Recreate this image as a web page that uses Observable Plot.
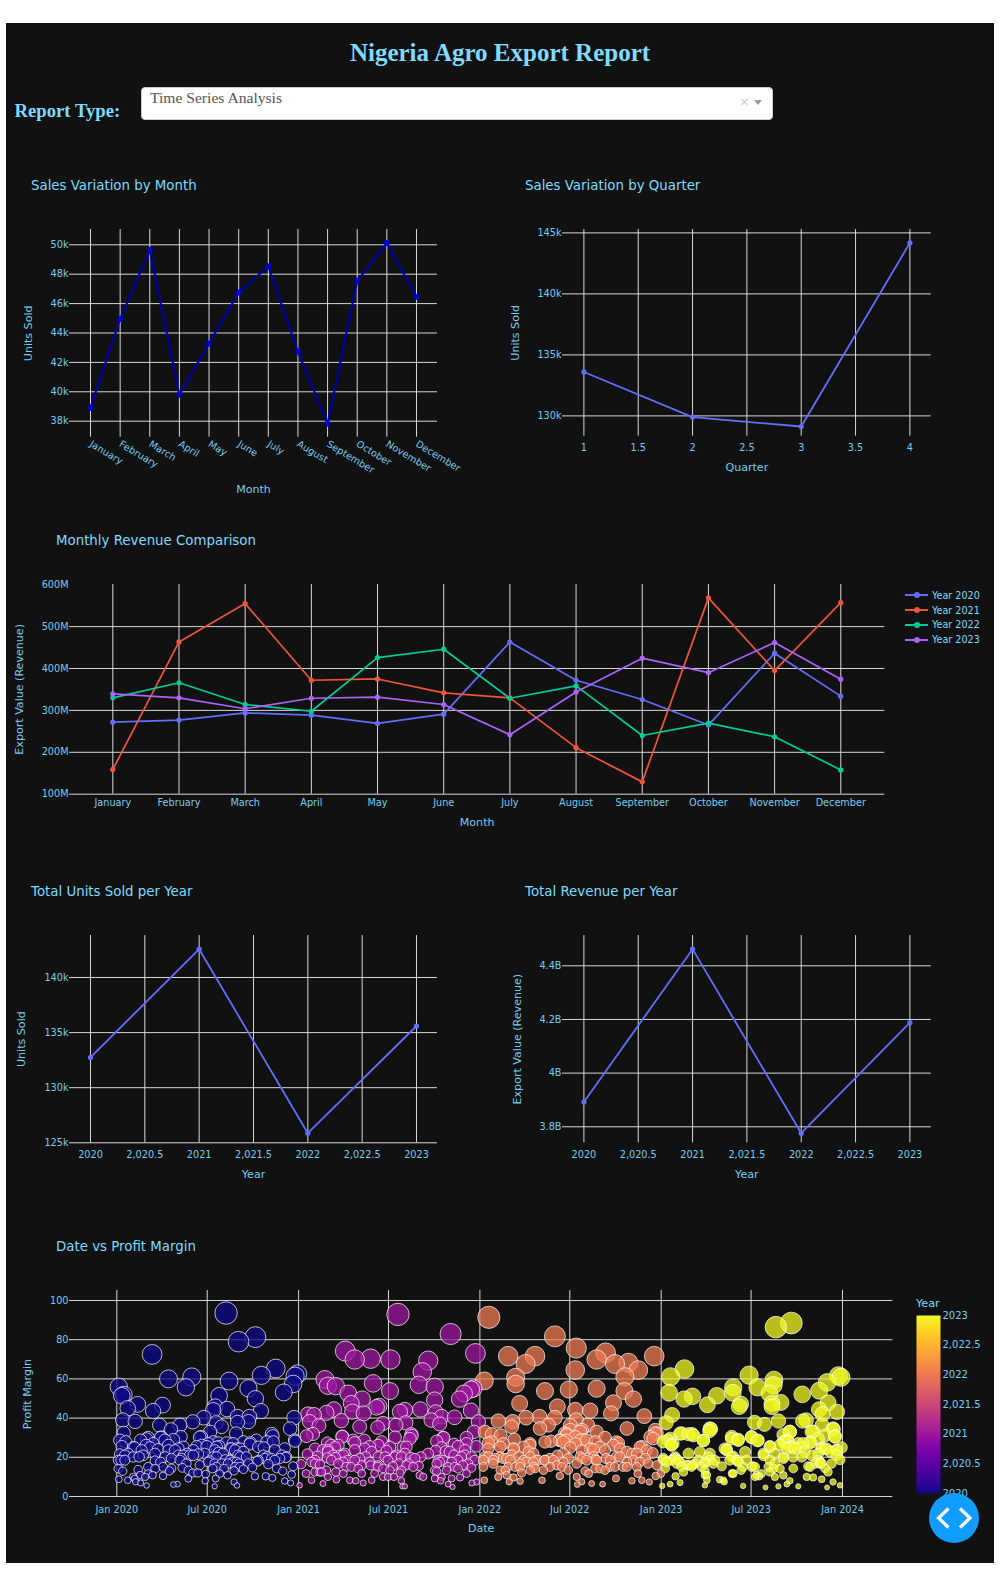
<!DOCTYPE html>
<html>
<head>
<meta charset="utf-8">
<script src="https://cdn.jsdelivr.net/npm/d3@7"></script>
<script src="https://cdn.jsdelivr.net/npm/@observablehq/plot@0.6"></script>
<style>
html,body{margin:0;padding:0;background:#fff;overflow:hidden;}
body{position:relative;width:1000px;height:1570px;}
#panel{position:absolute;left:6px;top:23px;width:987.5px;height:1540px;background:#111;}
.abs{position:absolute;white-space:nowrap;}
.serif{font-family:"Liberation Serif",serif;font-weight:bold;color:#7FDBFF;}
.ctitle{font-family:"DejaVu Sans",sans-serif;font-size:13.35px;color:#7FDBFF;line-height:16px;transform:translateY(-50%);}
#legend{position:absolute;left:905px;top:588px;font:9.6px "DejaVu Sans",sans-serif;color:#7FDBFF;}
#legend div{display:flex;align-items:center;height:14.8px;}
#legend i{display:block;position:relative;width:23px;height:2px;margin-right:4px;}
#legend i::after{content:"";position:absolute;left:8.5px;top:-2px;width:6px;height:6px;border-radius:50%;background:inherit;}
#dd{position:absolute;left:141px;top:87px;width:630px;height:31px;background:#fff;border:1px solid #ccc;border-radius:4px;}
#btn{position:absolute;left:929px;top:1493px;width:50px;height:50px;border-radius:50%;background:#119DFF;}
[aria-label$="axis label"]{font-size:11.1px;}
</style>
</head>
<body>
<div id="panel"></div>
<div class="abs serif" style="left:0;width:1000px;text-align:center;top:38px;font-size:25px;line-height:30px;">Nigeria Agro Export Report</div>
<div class="abs serif" style="left:14.5px;top:99px;font-size:18.7px;line-height:24px;">Report Type:</div>
<div id="dd">
  <span class="abs" style="left:8px;top:0px;font:15.6px/20px 'Liberation Serif',serif;color:#555;">Time Series Analysis</span>
  <span class="abs" style="left:597px;top:5px;font:13px/18px 'DejaVu Sans',sans-serif;color:#ccc;">×</span>
  <span class="abs" style="left:612px;top:12px;width:0;height:0;border-left:4.5px solid transparent;border-right:4.5px solid transparent;border-top:5px solid #999;"></span>
</div>
<div class="abs ctitle" style="left:31px;top:186px;">Sales Variation by Month</div>
<div class="abs ctitle" style="left:525px;top:186px;">Sales Variation by Quarter</div>
<div class="abs ctitle" style="left:56px;top:541px;">Monthly Revenue Comparison</div>
<div class="abs ctitle" style="left:31px;top:892px;">Total Units Sold per Year</div>
<div class="abs ctitle" style="left:525px;top:892px;">Total Revenue per Year</div>
<div class="abs ctitle" style="left:56px;top:1247px;">Date vs Profit Margin</div>
<div id="legend"></div>
<div class="abs" style="left:916px;top:1297px;font:11.2px/14px 'DejaVu Sans',sans-serif;color:#7FDBFF;">Year</div>
<div id="charts"></div>
<div id="btn"><svg width="50" height="50" style="display:block"><path d="M19.5 15.5 L9.5 25 L19.5 34.5 M31 15.5 L41 25 L31 34.5" fill="none" stroke="#fff" stroke-width="3.2"/></svg></div>

<script>
const months = ["January","February","March","April","May","June","July","August","September","October","November","December"];
const monthlyUnitsK = [38.9,44.96,49.66,39.8,43.29,46.76,48.54,42.72,37.82,47.55,50.12,46.46];
const quarters = [1,2,3,4];
const quarterUnitsK = [133.6,129.9,129.13,144.18];
const years = [2020,2021,2022,2023];
const yearUnitsK = [132.75,142.57,125.87,135.6];
const yearRevenueB = [3.892,4.462,3.776,4.188];
const revenue2020 = [272,277,294,288.5,269,291,463,372,326,265,436.5,334];
const revenue2021 = [159,463.5,555,372,375,342,330,211,129.4,568.6,395,557];
const revenue2022 = [330,366,314,298,426,446,329,358.5,240,269.5,237,158];
const revenue2023 = [339.5,330,304,329,331.5,314,242,344,424.6,390,462,374.5];
const seriesNames = ["Year 2020","Year 2021","Year 2022","Year 2023"];
const seriesColors = ["#636EFA","#EF553B","#00CC96","#AB63FA"];

// [day of year, profit margin]
const bubbles2020 = [[5,56],[15,52],[11,51.4],[23,45],[43,47],[72,72.5],[74,43.6],[93,46.6],[105,60],[140,55.7],[152,61],[221,93.6],[246,79],[280,81.3],[227,58.9],[207,51.4],[199,45.8],[195,44],[223,44.6],[266,55.2],[280,49.9],[291,43.6],[292,61.8],[321,65.3],[337,53.1],[356,57.4],[360,61.4],[365,62.5],[358,40.2],[350,34.6],[359,28.8],[13,39],[38,38.3],[15,32.5],[87,36.4],[110,34.2],[128,36.4],[154,38.1],[176,40.2],[244,40.7],[268,40.7],[266,38.2],[244,37.8],[201,37.6],[212,35.6],[241,32.2],[189,33],[168,30.2],[313,31.9],[315,30.8],[130,30.5],[61,29.3],[91,30.2],
[11,25.6],[7,21.6],[9,18.5],[4,14.2],[13,12.9],[5,8.8],[23,8.3],[37,25],[34,20.2],[19,27.9],[49,28.7],[60,26.2],[64,30],[89,30],[84,24.1],[44,13.7],[37,9.1],[39,7.5],[49,6.9],[58,10],[61,5.6],[73,10.9],[64,15.1],[78,18.2],[89,17.6],[94,10.5],[111,19.4],[115,29],[125,24.5],[111,14.3],[107,13.1],[133,14.6],[135,21],[148,21],[165,21.6],[178,21.9],[182,25.6],[205,27.4],[222,27.4],[206,22.4],[188,18.2],[219,18.8],[202,15.1],[217,14.2],[145,13.4],[154,12],[164,12],[180,11.4],[179,8],[200,9.2],[198,5.2],[145,9.1],[115,6.1],[123,6.3],[224,10.8],[237,13.1],[237,7.4],[243,5.6],[256,13.9],[247,16.8],[245,21],[243,24.5],[232,24.5],[256,27.9],[270,27.4],[282,28.7],[297,25],[319,23.6],[339,24.5],[329,19.4],[306,16.5],[284,18],[274,14.8],[323,14.3],[335,12.9],[353,11.2],[360,28.2],[339,7.9],[351,6.9],[279,10.3],[301,10.3],[314,9.5],[266,16.8],[195,20.2],[162,25.6],[171,30.4],[242,17.6],[225,16.8],[208,11.7],[194,14.3],[304,20.2],[341,19.9],[356,15.4],
[34,25],[24,21.9],[51,23.6],[68,25],[74,27],[98,28.7],[105,26.2],[98,20.2],[125,21],[131,19.4],[143,21.9],[155,21],[172,26.2],[195,27.9],[207,25.6],[198,23.6],[215,21.9],[230,24.5],[239,23.6],[249,20.2],[256,22.8],[269,26.7],[286,25.3],[296,21],[313,19.4],[333,21],[343,20.2],[303,27.9],[316,27.9],[286,18.5],[239,15.1],[249,15.1],[212,16.8],[198,16.8],[185,17.6],[168,16],[141,16.8],[128,18.5],[94,15.1],[78,14.2],[64,11.7],[48,10.9],[34,10],[17,18.5],[7,28.7],[4,18.5],[202,20.2],[229,18.5],[235,17.6],
[185,27],[202,25.3],[235,27],[249,24.4],[155,23.6],[135,25.3],[118,23.6],[105,23.6],[78,21.9],[54,21],[46,20.2],[17,21],[299,19.4],[319,18.5],[262,20.2]];
const bubbles2021 = [[54,59.7],[60,56.5],[76,56.3],[95,74.2],[114,69.9],[146,70.3],[186,69.9],[201,92.9],[307,82.9],[262,69.3],[250,63.6],[357,73],[151,57.7],[185,53.8],[243,57],[275,56],[101,52.6],[129,49.7],[107,47.5],[109,43.3],[132,42.4],[72,44.4],[57,42.7],[87,38.7],[124,35.6],[163,46.1],[158,45.5],[205,43.2],[215,44.1],[246,44.4],[275,49.2],[277,42.9],[289,40.7],[315,40.4],[325,49.7],[334,52.6],[348,54.6],[353,55.1],[348,43.8],[363,38.1],[354,33],[268,39],[285,37],[171,37.3],[160,35.2],[197,36.4],[217,37.6],[229,31],[89,30.5],[32,41.6],[20,41.9],[42,36.1],[30,31.9],[17,30.8],[23,38.2],[195,30.2],[292,30],
[19,21.6],[39,20.5],[60,22.8],[74,25],[59,19.7],[75,19.9],[91,17.6],[114,18.5],[136,20.2],[168,27.9],[178,23.3],[181,18.5],[144,25.6],[133,28.7],[114,27.5],[89,30.7],[59,27.3],[211,25.3],[225,29.5],[228,31.8],[198,21],[227,19.9],[247,20.2],[218,15.9],[243,15.6],[203,16.8],[279,28.2],[293,29.9],[314,26.7],[297,23.1],[277,23.3],[339,30],[359,25.6],[336,21],[314,21],[285,17.6],[332,16],[309,17.6],[349,14.6],[279,12.9],[299,13.4],[322,14.2],[339,11.7],[44,16.3],[47,12.5],[27,17.6],[16,11.7],[6,16.5],[60,10],[76,12.5],[91,11.7],[77,8.6],[27,8.3],[50,6.6],[3,5.7],[104,8.3],[116,8],[131,6.9],[148,8.3],[107,15.1],[128,15.9],[146,15.9],[160,15.1],[128,11.7],[154,11.7],[171,14.3],[185,13.4],[171,10],[181,10],[193,10],[205,12],[208,8],[215,5.2],[210,5.2],[245,10.8],[252,10],[275,9.2],[289,10],[287,8],[309,9.2],[302,6.3],[311,4.9],[326,9.7],[350,6.9],[359,7.4],[94,21.9],
[34,24.4],[50,23.6],[67,26.2],[81,26.2],[84,21],[101,18.5],[124,19.4],[148,22.8],[161,20.2],[144,17.6],[121,14.2],[97,15.1],[67,18.5],[44,12.5],[34,16.8],[57,13.4],[185,25.3],[195,20.2],[215,21.9],[235,19.4],[222,16.8],[208,13.4],[232,15.1],[262,21.9],[289,25],[305,22.8],[292,18.5],[279,16.8],[302,15.1],[322,18.5],[336,23.6],[349,20.2],[322,25.6],[342,16.8],[356,18.5],[111,28.7],[161,15.9],[191,15.4],[81,16.8],[34,12.5],
[34,18.5],[71,21],[60,23.6],[91,21],[114,23.6],[134,24.4],[161,26.2],[175,20.2],[208,20.2],[218,25.3],[282,18.5],[329,20.2],[339,27],[315,15.1],[275,13.4]];
const bubbles2022 = [[19,91.4],[10,59],[152,81.7],[195,75.7],[58,71.6],[93,67.6],[112,71.6],[236,69.9],[254,73.3],[273,67.6],[300,68.2],[320,64.5],[352,71.6],[293,61.1],[73,60.8],[73,57.4],[193,64.5],[132,53.8],[180,54.6],[236,55],[292,53.8],[310,49.7],[81,47.5],[157,45.8],[193,44.1],[270,47.8],[265,42.4],[223,43.8],[332,41],[38,38.5],[121,40.7],[94,40.2],[152,40.2],[195,39],[67,38.2],[139,36.4],[122,34.7],[218,36.4],[297,34.7],[236,33],[354,33.9],[357,32.2],[183,33.9],[172,32.2],[206,33.9],[65,35.6],
[11,33],[25,31.8],[43,31.2],[18,27.3],[48,27],[70,29.2],[69,24.4],[102,26.2],[99,22.7],[11,20.2],[32,19.4],[55,19.4],[79,20.2],[102,20.2],[8,15.1],[42,13.4],[58,15.1],[72,15.1],[95,17.6],[115,18.5],[132,18.5],[157,21],[161,28.7],[144,28.2],[176,31.8],[193,27],[183,25],[206,23.6],[209,29],[230,24],[253,30],[253,23.6],[280,27.3],[276,20.2],[327,25.6],[350,29.5],[349,22.2],[307,21.9],[179,19.4],[208,19.4],[233,18.8],[255,19.4],[297,17.6],[323,17.6],[340,16.8],[357,15.9],[179,13.4],[213,13],[273,15.1],[289,15.1],[233,14.3],[253,13.4],[156,15.9],[112,14.3],[129,13.4],[85,12],[38,10],[55,10.9],[10,8.3],[69,9.7],[60,7.5],[82,7.8],[126,8.3],[162,10.5],[196,10],[220,11.7],[206,7.5],[197,6.1],[226,6.6],[248,6.3],[275,9.2],[307,8],[327,8.3],[342,7.4],[319,11.7],[355,10.5],[365,11.7],
[18,20.2],[42,20.2],[65,21],[89,18.5],[109,21.9],[119,18.5],[142,19.4],[169,21.9],[169,27.9],[193,30.4],[216,28.7],[233,27.9],[203,20.2],[223,24.4],[243,25.3],[270,26.2],[283,24.4],[297,22.8],[317,21.9],[337,23.6],[334,19.4],[310,18.5],[283,20.2],[263,18.5],[236,18.5],[216,18.5],[196,16.8],[169,17.6],[149,18.5],[109,17.6],[82,16.8],[62,18.5],[28,16.8],[8,18.5],[52,13.4],[102,13.4],[142,15.1],[166,15.1],[243,14.2],[263,15.1],[297,15.1],[317,15.1],[18,24.4],[42,25.3],[25,27.9],[89,25.3],
[176,31.3],[162,28.7],[175,28.7],[132,27.8],[203,33],[203,28.7],[183,36.3],[223,24.4],[230,20.2],[276,27.9],[323,25.3],[344,30.4],[354,32.1],[28,18.5],[48,19.4],[69,24.4],[102,27],[132,18.5],[82,15.1],[109,15.1]];
const bubbles2023 = [[48,65],[20,61.1],[17,52.9],[47,49.7],[64,51.1],[94,46.8],[113,51.4],[146,55.7],[145,52.9],[161,47.2],[158,45.8],[178,61.9],[195,55.7],[228,59.4],[232,86.4],[263,88.5],[227,56.8],[219,52.6],[224,47.5],[242,48],[224,45.8],[285,52.1],[319,54],[335,58.2],[358,61.6],[363,60.8],[337,47.8],[319,44.4],[355,43.2],[326,42.1],[23,41.6],[11,37.6],[189,37.8],[209,36.8],[237,38.5],[286,38.5],[293,39],[307,33.1],[325,36.4],[348,34.2],[351,30.8],[101,34.4],[98,33.4],[260,33],[247,31.4],[42,32.2],[63,31.9],[86,28.5],[143,30.5],[156,29.1],[183,30.2],[195,28.5],[19,29.6],[250,28],[22,26.2],
[5,18.5],[9,14.3],[29,19.4],[32,16.8],[22,26.2],[5,27.9],[52,16],[64,16],[46,12.5],[89,17.6],[89,13.4],[99,21.9],[56,21.9],[79,22.7],[123,15.4],[133,24],[156,17.6],[146,11.7],[170,22.7],[162,13.4],[186,15.4],[207,21.9],[220,25.3],[247,19.4],[250,27.9],[267,25.3],[284,25],[301,27.3],[267,14.3],[297,15.4],[321,16.8],[324,25],[354,23.9],[364,25],[361,18.8],[317,21.9],[217,15.1],[227,14.3],[203,11.7],[193,10.9],[331,14.3],[337,12.5],[230,10],[247,10.8],[294,10],[307,9.7],[324,8.8],[347,7.4],[361,5.7],[335,4.6],[277,5.2],[237,5.2],[211,4.6],[260,8],[254,6.3],[166,5.4],[144,11.7],[128,7.5],[119,8.6],[89,5.7],[93,8.3],[89,10.9],[30,10.3],[39,7.1],[19,6.3],[3,5.4],[198,10.3],[146,20.5],[109,18.5],[126,8.3],
[15,28.7],[25,27],[39,32.1],[56,31.8],[66,31.2],[86,28.7],[99,34.6],[12,17.6],[22,18.5],[42,15.1],[62,15.1],[76,18.5],[96,20.2],[106,16.8],[129,24.4],[143,29.5],[156,28.7],[183,30.4],[196,28.7],[153,18.5],[173,18.5],[190,15.1],[220,18.5],[240,26.2],[254,28.7],[260,33],[264,25.3],[277,27],[304,33],[317,29.5],[331,31.2],[347,34.6],[351,30.4],[284,20.2],[304,21],[331,24.4],[341,22.8],[311,16.8],[324,16.8],[344,16.8],[354,21],[5,19.4],[39,17.6],[82,15.1],[139,18.5],[220,12.5],[240,14.2],[93,10.9],
[29,20.2],[35,18.5],[56,16],[69,16.8],[89,16.8],[99,18.5],[133,23.6],[143,20.2],[156,18.5],[166,15.1],[183,15.1],[190,10],[220,25.6],[207,21],[247,20.2],[257,27.9],[254,24.4],[270,24.4],[287,27],[301,27.9],[324,24.4],[334,24.4],[354,23.6],[317,18.5],[301,15.1],[321,17.6],[247,27.9],[260,25.3],[290,22.8],[267,20.2],[230,21.9],[230,16.8]];

const bubbleYears = {2020:bubbles2020,2021:bubbles2021,2022:bubbles2022,2023:bubbles2023};
const bubbles = years.flatMap(y => bubbleYears[y]
  .map(([day,margin]) => ({year:y, date:new Date(Date.UTC(y,0,day)), margin})))
  .sort((a,b)=>a.date-b.date);

const TEXT="#78cdf0", GRID="#d8d8d8";
const FONT='"DejaVu Sans",sans-serif';
const fy = d => Number.isInteger(d) ? String(d) : d3.format(",")(d);

function chart({frame:[l,r,t,b], x, y, marks, extra={}, pad={}}){
  const p={left:70,right:40,top:12,bottom:70,...pad};
  const sl=l-p.left, st=t-p.top;
  const svg=Plot.plot({
    width:r-l+p.left+p.right, height:b-t+p.top+p.bottom,
    marginLeft:p.left, marginRight:p.right, marginTop:p.top, marginBottom:p.bottom,
    style:{background:"transparent",color:TEXT,fontFamily:FONT,fontSize:"10px",position:"absolute",left:sl+"px",top:st+"px",overflow:"visible"},
    x:{...x, range:x.range.map(v=>v-sl)},
    y:{...y, range:y.range.map(v=>v-st)},
    marks, ...extra
  });
  document.getElementById("charts").appendChild(svg);
}
const gridX=(v)=>Plot.ruleX(v,{stroke:GRID,strokeWidth:1});
const gridY=(v)=>Plot.ruleY(v,{stroke:GRID,strokeWidth:1});
const axX=(o)=>Plot.axisX({tickSize:0,tickPadding:8,fontSize:9.7,labelAnchor:"center",labelArrow:"none",...o});
const axY=(o)=>Plot.axisY({tickSize:0,tickPadding:1,fontSize:9.7,labelAnchor:"center",labelArrow:"none",...o});

// Sales Variation by Month
const mData=months.map((m,i)=>({m,v:monthlyUnitsK[i]}));
const kTicks1=[38,40,42,44,46,48,50];
chart({frame:[69,437,229,436.7],
  x:{type:"point",domain:months,range:[90,416],padding:0,round:false},
  y:{domain:[38,50],range:[420.7,244.3]},
  marks:[gridX(months),gridY(kTicks1),
    axX({ticks:months,tickRotate:31,label:"Month",labelOffset:56,tickPadding:6}),
    axY({ticks:kTicks1,tickFormat:d=>d+"k",label:"Units Sold",labelOffset:45}),
    Plot.line(mData,{x:"m",y:"v",stroke:"#0000a8",strokeWidth:2.2}),
    Plot.dot(mData,{x:"m",y:"v",fill:"#0000d0",r:3})]});

// Sales Variation by Quarter
const qData=quarters.map((q,i)=>({q,v:quarterUnitsK[i]}));
const qTicks=[1,1.5,2,2.5,3,3.5,4];
chart({frame:[562.3,931,229.3,436],
  x:{domain:[1,4],range:[583.7,909.7]},
  y:{domain:[130,145],range:[415.7,232.7]},
  marks:[gridX(qTicks),gridY([130,135,140,145]),
    axX({ticks:qTicks,tickFormat:d=>String(d),label:"Quarter",labelOffset:35}),
    axY({ticks:[130,135,140,145],tickFormat:d=>d+"k",label:"Units Sold",labelOffset:51}),
    Plot.line(qData,{x:"q",y:"v",stroke:"#636EFA",strokeWidth:1.8}),
    Plot.dot(qData,{x:"q",y:"v",fill:"#636EFA",r:2.6})]});

// Monthly Revenue Comparison
const revSeries=[revenue2020,revenue2021,revenue2022,revenue2023];
const revData=revSeries.flatMap((s,k)=>s.map((v,i)=>({m:months[i],v,s:seriesNames[k]})));
const colorScale={domain:seriesNames,range:seriesColors};
chart({frame:[69,884.3,584,793.7],
  x:{type:"point",domain:months,range:[112.3,840.3],padding:0,round:false},
  y:{domain:[100,600],range:[793.7,584.2]},
  extra:{color:colorScale},
  marks:[gridX(months),gridY([100,200,300,400,500]),
    axX({ticks:months,label:"Month",labelOffset:32,tickPadding:5}),
    axY({ticks:[100,200,300,400,500,600],tickFormat:d=>d+"M",label:"Export Value (Revenue)",labelOffset:54}),
    Plot.line(revData,{x:"m",y:"v",stroke:"s",strokeWidth:1.7}),
    Plot.dot(revData,{x:"m",y:"v",fill:"s",r:2.6})]});

// Total Units Sold per Year
const yTicks=[2020,2020.5,2021,2021.5,2022,2022.5,2023];
const yuData=years.map((y,i)=>({y,v:yearUnitsK[i]}));
chart({frame:[69,437,935,1142.3],
  x:{domain:[2020,2023],range:[90,416]},
  y:{domain:[125,140],range:[1142.3,977]},
  marks:[gridX(yTicks),gridY([125,130,135,140]),
    axX({ticks:yTicks,tickFormat:fy,label:"Year",labelOffset:35}),
    axY({ticks:[125,130,135,140],tickFormat:d=>d+"k",label:"Units Sold",labelOffset:52}),
    Plot.line(yuData,{x:"y",y:"v",stroke:"#636EFA",strokeWidth:1.8}),
    Plot.dot(yuData,{x:"y",y:"v",fill:"#636EFA",r:2.6})]});

// Total Revenue per Year
const yrData=years.map((y,i)=>({y,v:yearRevenueB[i]}));
chart({frame:[562.3,931,935,1142.3],
  x:{domain:[2020,2023],range:[583.7,909.7]},
  y:{domain:[3.8,4.4],range:[1126.3,965.3]},
  marks:[gridX(yTicks),gridY([3.8,4,4.2,4.4]),
    axX({ticks:yTicks,tickFormat:fy,label:"Year",labelOffset:35}),
    axY({ticks:[3.8,4,4.2,4.4],tickFormat:d=>d+"B",label:"Export Value (Revenue)",labelOffset:49}),
    Plot.line(yrData,{x:"y",y:"v",stroke:"#636EFA",strokeWidth:1.8}),
    Plot.dot(yrData,{x:"y",y:"v",fill:"#636EFA",r:2.6})]});

// Date vs Profit Margin
const dateTicks=["2020-01-01","2020-07-01","2021-01-01","2021-07-01","2022-01-01","2022-07-01","2023-01-01","2023-07-01","2024-01-01"].map(s=>new Date(s));
const marginTicks=[0,20,40,60,80,100];
const yearColor={type:"linear",domain:[2020,2023],scheme:"plasma"};
chart({frame:[69,892.3,1290.3,1497.5],
  x:{type:"utc",domain:[dateTicks[0],dateTicks[8]],range:[116.3,842]},
  y:{domain:[0,100],range:[1496.3,1300.3]},
  extra:{color:yearColor,r:{type:"sqrt",domain:[0,100],range:[0,11.6]}},
  marks:[gridX(dateTicks),gridY(marginTicks),
    axX({ticks:dateTicks,tickFormat:d3.utcFormat("%b %Y"),label:"Date",labelOffset:34}),
    axY({ticks:marginTicks,label:"Profit Margin",labelOffset:46}),
    Plot.dot(bubbles,{x:"date",y:"margin",r:"margin",fill:"year",fillOpacity:0.75,stroke:"#fff",strokeOpacity:0.7,strokeWidth:1})]});

// Year colour bar
chart({frame:[916,940,1315,1493],pad:{left:4,right:50,top:4,bottom:16},
  x:{domain:[0,1],range:[916,940],axis:null},
  y:{domain:[2020,2023],range:[1493,1315]},
  extra:{color:yearColor},
  marks:[Plot.raster({x1:0,x2:1,y1:2020,y2:2023,fill:(x,y)=>y,pixelSize:1}),
    Plot.axisY({anchor:"right",ticks:yTicks,tickFormat:fy,tickSize:0,tickPadding:2,fontSize:10,label:null})]});

// Legend
const lg=document.getElementById("legend");
seriesNames.forEach((n,i)=>{
  const row=document.createElement("div");
  const sw=document.createElement("i"); sw.style.background=seriesColors[i];
  row.appendChild(sw); row.appendChild(document.createTextNode(n)); lg.appendChild(row);
});
</script>
</body>
</html>
